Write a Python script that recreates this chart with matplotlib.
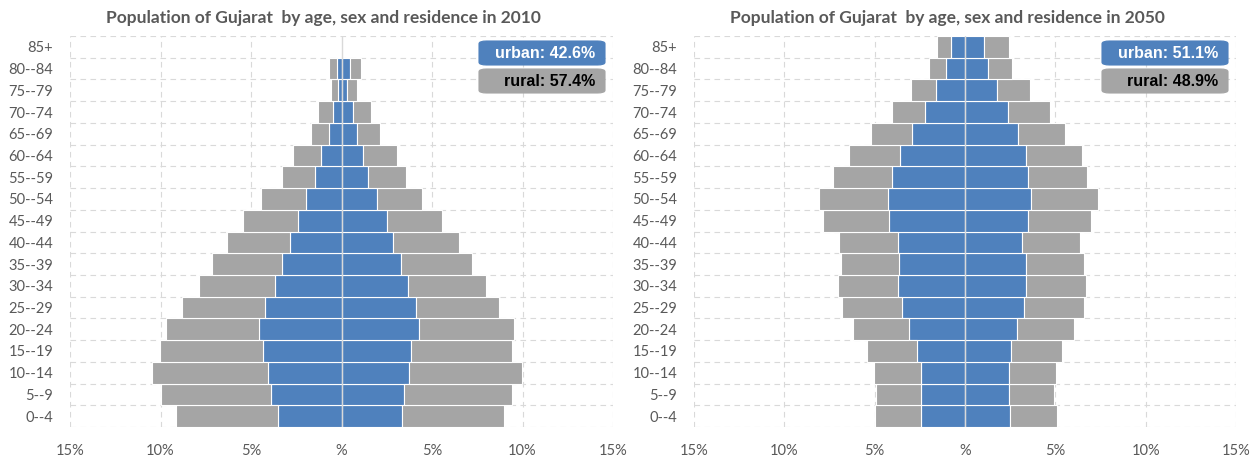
import matplotlib
matplotlib.use("Agg")
import matplotlib.pyplot as plt
from matplotlib.patches import FancyBboxPatch

# Age groups, bottom to top
age_groups = ["0--4", "5--9", "10--14", "15--19", "20--24", "25--29", "30--34",
              "35--39", "40--44", "45--49", "50--54", "55--59", "60--64",
              "65--69", "70--74", "75--79", "80--84", "85+"]

# 2010, percent of each sex (males drawn to the left)
male_urban_2010 = [3.50, 3.91, 4.08, 4.33, 4.58, 4.20, 3.68, 3.26, 2.86, 2.41,
                   1.96, 1.47, 1.12, 0.69, 0.49, 0.22, 0.27, 0.00]
male_rural_2010 = [5.63, 6.05, 6.37, 5.69, 5.13, 4.62, 4.18, 3.91, 3.46, 3.01,
                   2.46, 1.79, 1.54, 1.01, 0.80, 0.36, 0.40, 0.00]
female_urban_2010 = [3.33, 3.48, 3.73, 3.82, 4.29, 4.13, 3.66, 3.28, 2.83, 2.50,
                     1.94, 1.47, 1.21, 0.83, 0.63, 0.31, 0.45, 0.00]
female_rural_2010 = [5.64, 5.94, 6.25, 5.62, 5.22, 4.58, 4.35, 3.95, 3.64, 3.08,
                     2.52, 2.08, 1.83, 1.31, 1.00, 0.52, 0.62, 0.00]

# 2050 projection
male_urban_2050 = [2.43, 2.41, 2.43, 2.63, 3.09, 3.49, 3.69, 3.64, 3.69, 4.19,
                   4.28, 4.02, 3.58, 2.91, 2.23, 1.59, 1.04, 0.75]
male_rural_2050 = [2.54, 2.51, 2.60, 2.78, 3.09, 3.33, 3.35, 3.25, 3.29, 3.67,
                   3.78, 3.26, 2.82, 2.28, 1.81, 1.39, 0.95, 0.80]
female_urban_2050 = [2.49, 2.41, 2.41, 2.54, 2.89, 3.27, 3.40, 3.36, 3.18, 3.49,
                     3.66, 3.47, 3.38, 2.94, 2.38, 1.79, 1.26, 1.04]
female_rural_2050 = [2.61, 2.51, 2.65, 2.82, 3.14, 3.29, 3.31, 3.24, 3.18, 3.51,
                     3.69, 3.28, 3.09, 2.62, 2.32, 1.83, 1.32, 1.37]

urban_share = {"2010": 42.6, "2050": 51.1}
rural_share = {"2010": 57.4, "2050": 48.9}

x_ticks = [-15, -10, -5, 0, 5, 10, 15]
x_tick_labels = ["15%", "10%", "5%", "%", "5%", "10%", "15%"]

BLUE = "#4F81BD"
GRAY = "#A5A5A5"
GRID = "#D9D9D9"
TEXT = "#595959"

W, H = 1256, 457
fig = plt.figure(figsize=(W / 100, H / 100), dpi=100)


def px_axes(x0, x1, y_top, y_bot):
    return fig.add_axes([x0 / W, 1 - y_bot / H, (x1 - x0) / W, (y_bot - y_top) / H])


def pyramid(ax, mu, mr, fu, fr):
    y = list(range(len(age_groups)))
    kw = dict(height=1.0, edgecolor="white", linewidth=0.8, zorder=2)
    ax.barh(y, [-v for v in mu], color=BLUE, **kw)
    ax.barh(y, [-v for v in mr], left=[-v for v in mu], color=GRAY, **kw)
    ax.barh(y, fu, color=BLUE, **kw)
    ax.barh(y, fr, left=fu, color=GRAY, **kw)

    dash = (0, (5, 4))
    for xv in x_ticks:
        if xv != 0:
            ax.axvline(xv, color=GRID, lw=0.8, linestyle=dash, zorder=1)
    for k in range(len(age_groups) + 1):
        ax.axhline(k - 0.5, color=GRID, lw=0.8, linestyle=dash, zorder=1)
    ax.axvline(0, color=GRID, lw=1.0, zorder=3)

    ax.set_xlim(-15, 15)
    ax.set_ylim(-0.5, len(age_groups) - 0.5)
    ax.set_xticks(x_ticks)
    ax.set_xticklabels(x_tick_labels)
    ax.set_yticks(y)
    ax.set_yticklabels(age_groups)
    ax.tick_params(length=0, colors=TEXT, labelsize=10.5)
    ax.tick_params(axis="x", pad=12)
    ax.tick_params(axis="y", pad=12)
    for lab in ax.get_xticklabels() + ax.get_yticklabels():
        lab.set_fontfamily("Lato")
    for s in ax.spines.values():
        s.set_visible(False)


def share_box(x0, x1, y_top, y_bot, color, label, text_color):
    box = FancyBboxPatch((x0 / W, 1 - y_bot / H), (x1 - x0) / W, (y_bot - y_top) / H,
                         boxstyle="round,pad=0,rounding_size=0.006",
                         transform=fig.transFigure, facecolor=color,
                         edgecolor=color, linewidth=0.8, zorder=5)
    fig.patches.append(box)
    fig.text((x1 - 10) / W, 1 - (y_top + y_bot) / 2 / H, label, ha="right", va="center",
             color=text_color, fontsize=11.5, fontweight="bold",
             family="Liberation Sans", zorder=6)


panels = [
    ("2010", 70, 613, 323, male_urban_2010, male_rural_2010, female_urban_2010, female_rural_2010),
    ("2050", 694, 1236, 947, male_urban_2050, male_rural_2050, female_urban_2050, female_rural_2050),
]

for year, x0, x1, title_x, mu, mr, fu, fr in panels:
    ax = px_axes(x0, x1, 36, 427)
    pyramid(ax, mu, mr, fu, fr)
    fig.text(title_x / W, 1 - 18 / H,
             f"Population of Gujarat  by age, sex and residence in {year}",
             ha="center", va="center", color=TEXT, fontsize=12.5,
             fontweight="bold", family="Lato")
    share_box(x1 - 134, x1 - 8, 41, 65, BLUE, f"urban: {urban_share[year]}%", "white")
    share_box(x1 - 134, x1 - 8, 69, 93, GRAY, f"rural: {rural_share[year]}%", "black")

fig.savefig("out.png", dpi=100)
